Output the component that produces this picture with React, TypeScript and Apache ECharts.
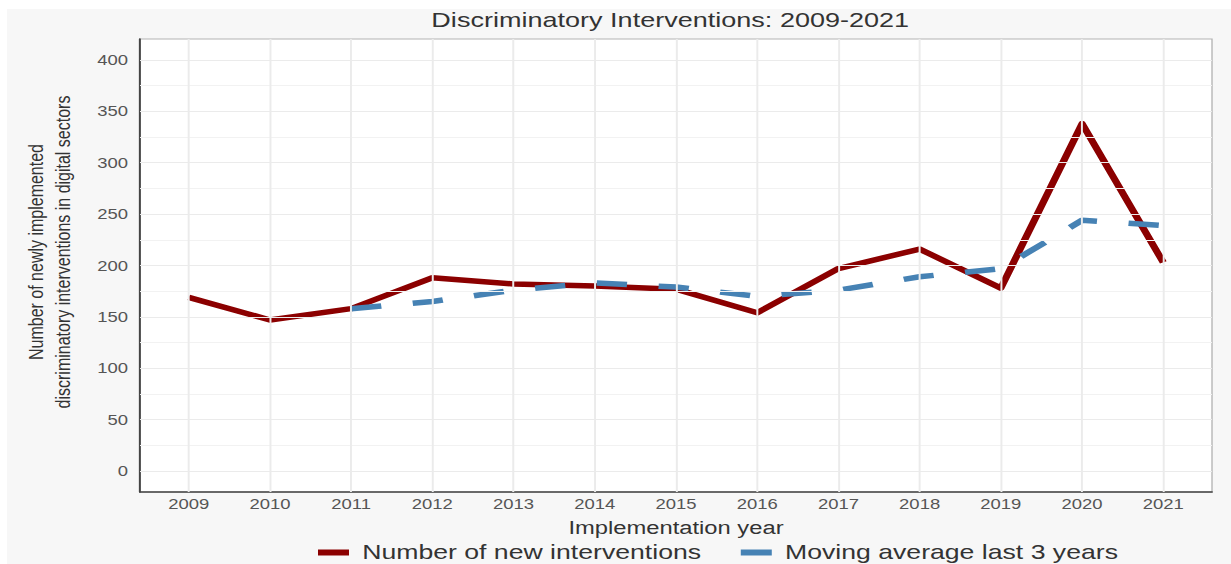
import React, { useEffect, useRef } from "react";
import * as echarts from "echarts";

const years = [2009, 2010, 2011, 2012, 2013, 2014, 2015, 2016, 2017, 2018, 2019, 2020, 2021];
const newInterventions = [169, 147, 158, 188, 182, 180, 177, 154, 197, 216, 178, 338, 203];
const movingAverage = [null, null, 158, 165, 176, 183, 179, 170, 176, 189, 197, 244, 239];
const yTicks = [0, 50, 100, 150, 200, 250, 300, 350, 400];
const yMinorTicks = [25, 75, 125, 175, 225, 275, 325, 375];

const SCREEN_W = 1231;
const H = 564;
const STRETCH = 1.3194;
const W = SCREEN_W / STRETCH;
const FONT = "'Liberation Sans', Arial, Helvetica, sans-serif";

export default function App() {
  const ref = useRef<HTMLDivElement>(null);
  useEffect(() => {
    document.body.style.margin = "0";
    document.body.style.overflow = "hidden";
    document.documentElement.style.overflow = "hidden";
    const chart = echarts.init(ref.current!, undefined, { renderer: "svg", width: W, height: H });
    const option: any = {
      animation: false,
      backgroundColor: "#ffffff",
      textStyle: { fontFamily: FONT },
      title: {
        text: "Discriminatory Interventions: 2009-2021",
        left: 508,
        top: 8,
        textAlign: "center",
        padding: 0,
        textStyle: { fontSize: 20.5, fontWeight: "normal", color: "#333333", fontFamily: FONT, lineHeight: 24 },
      },
      graphic: [
        {
          type: "rect",
          z: -10,
          shape: { x: 7 / STRETCH, y: 9, width: W, height: H },
          style: { fill: "#f7f7f7" },
          silent: true,
        },
        {
          type: "text",
          x: 37,
          y: 252,
          rotation: Math.PI / 2,
          style: {
            text: "Number of newly implemented\ndiscriminatory interventions in digital sectors",
            fontSize: 16,
            lineHeight: 20.5,
            fontFamily: FONT,
            fill: "#333333",
            align: "center",
            verticalAlign: "middle",
          },
        },
      ],
      legend: {
        left: 241,
        top: 542,
        padding: 0,
        itemWidth: 23.5,
        itemHeight: 6,
        itemGap: 30,
        icon: "rect",
        textStyle: { fontSize: 20.2, color: "#333333", fontFamily: FONT, padding: [0, 0, 0, 5], lineHeight: 21 },
        data: ["Number of new interventions", "Moving average last 3 years"],
      },
      grid: {
        left: 106.1,
        right: W - 918.6,
        top: 39,
        bottom: 72,
        show: true,
        backgroundColor: "#ffffff",
        borderColor: "#b3b3b3",
        borderWidth: 1,
      },
      xAxis: {
        type: "value",
        min: 2008.4,
        max: 2021.6,
        name: "Implementation year",
        nameLocation: "middle",
        nameGap: 27,
        nameTextStyle: { fontSize: 18, color: "#333333", fontFamily: FONT },
        axisLine: { show: true, onZero: false, lineStyle: { color: "#444444", width: 1.5 } },
        axisTick: { show: false },
        splitLine: { show: false },
        axisLabel: {
          customValues: years,
          formatter: (v: number) => String(v),
          fontSize: 14,
          color: "#555555",
          margin: 5,
          fontFamily: FONT,
        },
      },
      yAxis: {
        type: "value",
        min: -20.4,
        max: 420.4,
        axisLine: { show: true, onZero: false, lineStyle: { color: "#444444", width: 1.5 } },
        axisTick: { show: false },
        splitLine: { show: false },
        axisLabel: {
          customValues: yTicks,
          formatter: (v: number) => String(v),
          fontSize: 14,
          color: "#555555",
          margin: 9,
          fontFamily: FONT,
        },
      },
      series: [
        {
          name: "grid",
          type: "line",
          data: [],
          z: 1,
          silent: true,
          markLine: {
            silent: true,
            symbol: ["none", "none"],
            label: { show: false },
            emphasis: { disabled: true },
            lineStyle: { color: "#ebebeb", width: 1, type: "solid" },
            data: [
              ...yTicks.map((v) => ({ yAxis: v })),
              ...yMinorTicks.map((v) => ({ yAxis: v, lineStyle: { color: "#f2f2f2", width: 1, type: "solid" } })),
              ...years.map((v) => ({ xAxis: v, lineStyle: { color: "#ebebeb", width: 1.5, type: "solid" } })),
            ],
          },
        },
        {
          name: "Number of new interventions",
          type: "line",
          z: 3,
          showSymbol: false,
          symbol: "none",
          data: years.map((y, i) => [y, newInterventions[i]]),
          itemStyle: { color: "#8b0000" },
          lineStyle: { color: "#8b0000", width: 5.5, join: "round" },
        },
        {
          name: "Moving average last 3 years",
          type: "line",
          z: 4,
          showSymbol: false,
          symbol: "none",
          data: years.map((y, i) => [y, movingAverage[i]]),
          itemStyle: { color: "#4682b4" },
          lineStyle: { color: "#4682b4", width: 5.5, type: [23, 24], cap: "butt" },
        },
      ],
    };
    chart.setOption(option);
    return () => chart.dispose();
  }, []);
  return (
    <div style={{ width: SCREEN_W, height: H, overflow: "hidden", background: "#ffffff" }}>
      <div
        ref={ref}
        style={{ width: W, height: H, transform: `scaleX(${STRETCH})`, transformOrigin: "0 0" }}
      />
    </div>
  );
}
